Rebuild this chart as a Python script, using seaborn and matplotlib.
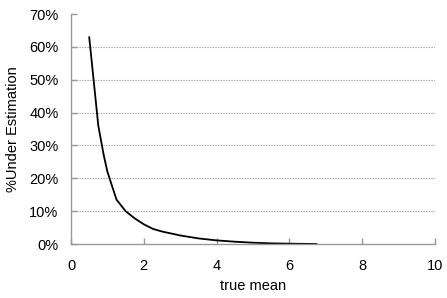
import matplotlib
matplotlib.use("Agg")
import matplotlib.pyplot as plt
import seaborn as sns
import pandas as pd
from matplotlib.ticker import FuncFormatter, MultipleLocator

true_mean = [0.5, 0.75, 0.9, 1.0, 1.25, 1.5, 1.75, 2.0, 2.25, 2.5, 3.0, 3.5, 4.0, 4.5, 5.0, 5.5, 6.0, 6.5, 6.75]
under_est = [63.0, 36.0, 27.0, 22.0, 13.5, 10.0, 7.8, 6.0, 4.6, 3.8, 2.6, 1.7, 1.1, 0.7, 0.4, 0.2, 0.1, 0.03, 0.0]

df = pd.DataFrame({"true mean": true_mean, "under": under_est})

sns.set_theme(style="white")
plt.rcParams["font.family"] = ["Liberation Sans", "DejaVu Sans"]

fig = plt.figure(figsize=(4.47, 2.98), dpi=100)
ax = fig.add_axes([71/447, 1 - 244/298, (435 - 71)/447, (244 - 14)/298])

sns.lineplot(data=df, x="true mean", y="under", ax=ax, color="black", linewidth=1.3)

ax.set_xlim(0, 10)
ax.set_ylim(0, 70)
ax.xaxis.set_major_locator(MultipleLocator(2))
ax.yaxis.set_major_locator(MultipleLocator(10))
ax.yaxis.set_major_formatter(FuncFormatter(lambda v, p: f"{int(round(v))}%"))

for yv in range(10, 70, 10):
    ax.axhline(yv, color="#a0a0a0", linestyle=(0, (1.2, 1.2)), linewidth=0.8, zorder=0)

for s in ["top", "right"]:
    ax.spines[s].set_visible(False)
for s in ["left", "bottom"]:
    ax.spines[s].set_color("#999999")
    ax.spines[s].set_linewidth(1.0)

ax.tick_params(axis="both", direction="in", length=4, width=1, color="#999999",
               labelsize=10.5, labelcolor="black", left=True, bottom=True)
ax.tick_params(axis="x", pad=11)
ax.tick_params(axis="y", pad=9)

ax.set_xlabel("true mean", fontsize=10.5, color="black", labelpad=4)
ax.set_ylabel("%Under Estimation", fontsize=10.5, color="black", labelpad=7)

fig.savefig("out.png", dpi=100)
